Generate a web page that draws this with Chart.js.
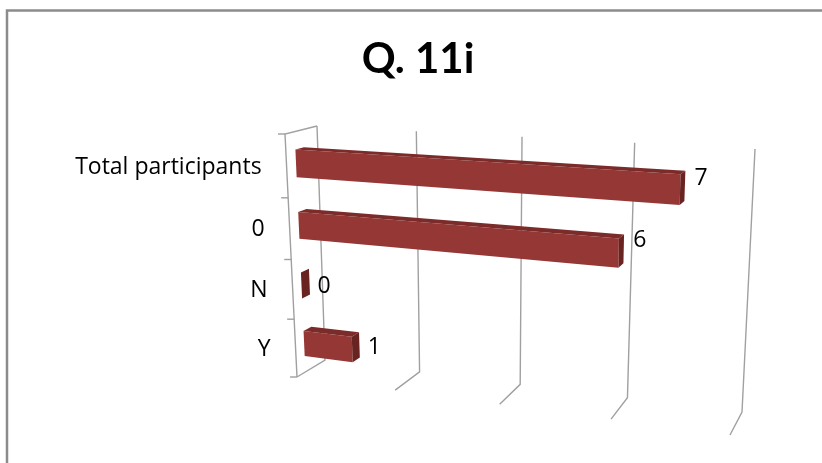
<!DOCTYPE html>
<html lang="en">
<head>
<meta charset="UTF-8">
<title>Q. 11i</title>
<script src="https://cdn.jsdelivr.net/npm/chart.js"></script>
<style>
    body { margin: 0; background: #ffffff; }
</style>
</head>
<body>
<canvas id="chartQ11i" width="822" height="463"></canvas>
<script>
    // data
    var categories = ["Total participants", "0", "N", "Y"];
    var values = [7, 6, 0, 1];
    var axisMax = 8;
    var axisStep = 2;

    // 3D box: front plane (d = 0) and back wall (d = 1)
    var front = { tl: [285, 134], tr: [739, 162], bl: [297, 377], br: [730, 435] };
    var back  = { tl: [317, 126], tr: [755, 149], bl: [325, 360], br: [742, 412] };
    var barFront = 0.30, barBack = 0.57;   // depth of the bars inside the box
    var labelFont = '23px "Open Sans"';

    // perspective squeeze along each axis
    function warpX(t) { var k = -0.12; return t * (1 + k) / (1 + k * t); }
    function warpY(t) { var k = 0.068; return t * (1 + k) / (1 + k * t); }

    function lerp(a, b, t) { return [a[0] + (b[0] - a[0]) * t, a[1] + (b[1] - a[1]) * t]; }
    function onPlane(q, tx, ty) { return lerp(lerp(q.tl, q.tr, tx), lerp(q.bl, q.br, tx), ty); }

    // flat chart pixel -> point in the 3D box
    function project(chart, px, py, d) {
        var a = chart.chartArea;
        var tx = warpX((px - a.left) / (a.right - a.left));
        var ty = warpY((py - a.top) / (a.bottom - a.top));
        return lerp(onPlane(front, tx, ty), onPlane(back, tx, ty), d);
    }

    function poly(ctx, pts, fill) {
        ctx.beginPath();
        ctx.moveTo(pts[0][0], pts[0][1]);
        for (var i = 1; i < pts.length; i++) ctx.lineTo(pts[i][0], pts[i][1]);
        ctx.closePath();
        ctx.fillStyle = fill;
        ctx.fill();
    }

    function line(ctx, pts) {
        ctx.beginPath();
        ctx.moveTo(pts[0][0], pts[0][1]);
        for (var i = 1; i < pts.length; i++) ctx.lineTo(pts[i][0], pts[i][1]);
        ctx.stroke();
    }

    var box3d = {
        id: 'box3d',
        beforeDraw: function (chart) {
            // frame of the chart object
            var ctx = chart.ctx;
            ctx.save();
            ctx.strokeStyle = '#8c8c8c';
            ctx.lineWidth = 2.5;
            line(ctx, [[7, 470], [7, 10.5], [830, 10.5]]);
            ctx.restore();
        },
        beforeDatasetsDraw: function (chart) {
            var ctx = chart.ctx, a = chart.chartArea;
            var xs = chart.scales.x, ys = chart.scales.y;
            ctx.save();
            ctx.strokeStyle = '#a0a0a0';
            ctx.lineWidth = 1.4;
            // gridlines on the back wall and the floor
            xs.ticks.forEach(function (tk) {
                var px = xs.getPixelForValue(tk.value);
                line(ctx, [project(chart, px, a.top, 1), project(chart, px, a.bottom, 1), project(chart, px, a.bottom, 0)]);
            });
            // left wall and category axis
            line(ctx, [project(chart, a.left, a.top, 1), project(chart, a.left, a.top, 0), project(chart, a.left, a.bottom, 0)]);
            var n = categories.length;
            for (var k = 0; k <= n; k++) {
                var p = project(chart, a.left, ys.getPixelForDecimal(k / n), 0);
                line(ctx, [[p[0] - 7, p[1]], p]);
            }
            ctx.restore();
        },
        afterDatasetsDraw: function (chart) {
            var ctx = chart.ctx;
            var ys = chart.scales.y;
            var bars = chart.getDatasetMeta(0).data;
            var mid = (barFront + barBack) / 2;
            ctx.save();
            bars.forEach(function (el, i) {
                var b = el.getProps(['x', 'y', 'base', 'height'], true);
                var y0 = b.y - b.height / 2, y1 = b.y + b.height / 2;
                var P = function (px, py, d) { return project(chart, px, py, d); };
                // front, top and end faces
                poly(ctx, [P(b.base, y0, barFront), P(b.x, y0, barFront), P(b.x, y1, barFront), P(b.base, y1, barFront)], '#953735');
                poly(ctx, [P(b.base, y0, barFront), P(b.x, y0, barFront), P(b.x, y0, barBack), P(b.base, y0, barBack)], '#7b2b29');
                poly(ctx, [P(b.x, y0, barFront), P(b.x, y0, barBack), P(b.x, y1, barBack), P(b.x, y1, barFront)], '#692321');

                // value label: right of the end face, level with the bar's centre
                var endC = P(b.x, b.y, mid), startC = P(b.base, b.y, mid);
                ctx.fillStyle = '#000000';
                ctx.font = labelFont;
                ctx.textAlign = 'left';
                ctx.textBaseline = 'middle';
                ctx.fillText(String(values[i]), endC[0] + 12, (endC[1] + startC[1]) / 2 + 3);
            });

            // category labels beside the front axis
            var a = chart.chartArea;
            categories.forEach(function (c, i) {
                var p = project(chart, a.left, ys.getPixelForValue(i), 0);
                ctx.fillStyle = '#000000';
                ctx.font = labelFont;
                ctx.textAlign = 'right';
                ctx.textBaseline = 'middle';
                ctx.fillText(c, p[0] - 25, p[1] + 1);
            });
            ctx.restore();
        }
    };

    var ctxQ = document.getElementById("chartQ11i").getContext("2d");
    var configQ = {
        type: 'bar',
        data: {
            labels: categories,
            datasets: [
                {
                    label: 'Q. 11i',
                    data: values,
                    backgroundColor: 'rgba(0,0,0,0)',
                    borderWidth: 0,
                    categoryPercentage: 1,
                    barPercentage: 0.44
                }
            ]
        },
        options: {
            indexAxis: 'y',
            responsive: false,
            animation: false,
            layout: { padding: { left: 14 } },
            scales: {
                x: {
                    min: 0,
                    max: axisMax,
                    ticks: { stepSize: axisStep, display: false },
                    grid: { display: false },
                    border: { display: false }
                },
                y: {
                    ticks: { display: false },
                    grid: { display: false },
                    border: { display: false }
                }
            },
            plugins: {
                legend: { display: false },
                tooltip: { enabled: false },
                title: {
                    display: true,
                    text: 'Q. 11i',
                    color: '#000000',
                    font: { family: 'Lato', size: 42, weight: 'bold' },
                    padding: { top: 34, bottom: 20 }
                }
            }
        },
        plugins: [box3d]
    };
    var chartQ = new Chart(ctxQ, configQ);
</script>
</body>
</html>
